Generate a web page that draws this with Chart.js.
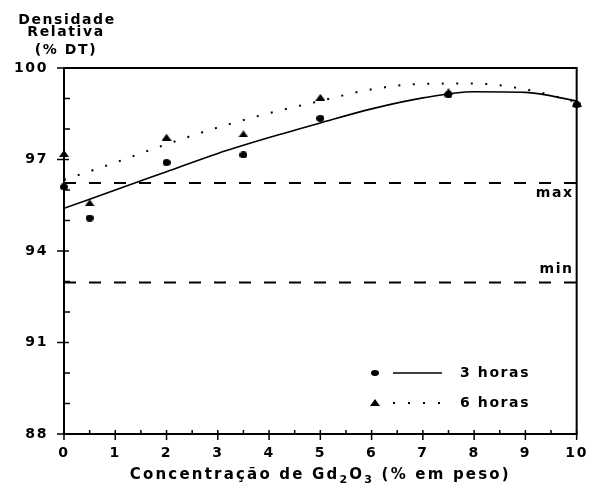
<!DOCTYPE html>
<html>
<head>
<meta charset="utf-8">
<script src="https://cdn.jsdelivr.net/npm/chart.js@4.4.1/dist/chart.umd.min.js"></script>
<style>
  html, body { margin: 0; padding: 0; background: #fff; }
  #wrap { width: 599px; height: 484px; }
</style>
</head>
<body>
<div id="wrap"><canvas id="c" width="599" height="484"></canvas></div>
<script>
// Measured relative density (% of theoretical density) vs Gd2O3 content
const concentrations = [0, 0.5, 2, 3.5, 5, 7.5, 10];
const density3h = [96.1, 95.08, 96.9, 97.15, 98.35, 99.12, 98.8];
const density6h = [97.2, 95.58, 97.73, 97.84, 99.04, 99.22, 98.85];

// Fitted trend curves
const fitX = [0, 1, 2, 3, 4, 5, 6, 7, 8, 9, 10];
const fit3h = [95.4, 96.0, 96.6, 97.2, 97.72, 98.2, 98.66, 99.02, 99.22, 99.2, 98.92];
const fit6h = [96.33, 96.9, 97.5, 98.05, 98.52, 98.92, 99.3, 99.48, 99.49, 99.3, 98.88];

// Specification limits
const limitMax = 96.23;
const limitMin = 92.97;

// Axes
const xTicks = [0, 1, 2, 3, 4, 5, 6, 7, 8, 9, 10];
const xMinorTicks = [0.5, 1.5, 2.5, 3.5, 4.5, 5.5, 6.5, 7.5, 8.5, 9.5];
const yTicks = [88, 91, 94, 97, 100];
const yMinorTicks = [89, 90, 92, 93, 95, 96, 98, 99];
const seriesLabels = ['3 horas', '6 horas'];
const yTitleLines = ['Densidade', 'Relativa', '(% DT)'];

const FONT = '"DejaVu Sans", "Liberation Sans", sans-serif';
const SPACING = '1.6px';

// flat filled triangle marker
function makeTriangle(w, h) {
  const cv = document.createElement('canvas');
  cv.width = w; cv.height = h;
  const g = cv.getContext('2d');
  g.fillStyle = '#000';
  g.beginPath();
  g.moveTo(w / 2, 0); g.lineTo(w, h); g.lineTo(0, h); g.closePath();
  g.fill();
  return cv;
}
// small rounded blob marker
function makeBlob(w, h) {
  const cv = document.createElement('canvas');
  cv.width = w; cv.height = h;
  const g = cv.getContext('2d');
  g.fillStyle = '#000';
  g.beginPath();
  g.ellipse(w / 2, h / 2, w / 2, h / 2, 0, 0, Math.PI * 2);
  g.fill();
  return cv;
}
const triMarker = makeTriangle(10, 7);
const blobMarker = makeBlob(8, 7);
const legendBlob = makeBlob(8, 6);

const pts = ys => concentrations.map((c, i) => ({ x: c, y: ys[i] }));
const curve = ys => fitX.map((c, i) => ({ x: c, y: ys[i] }));
const hline = v => [{ x: xTicks[0], y: v }, { x: xTicks[xTicks.length - 1], y: v }];

const typeSpacing = {
  id: 'typeSpacing',
  beforeLayout(chart) { chart.ctx.letterSpacing = SPACING; },
  beforeDraw(chart) { chart.ctx.letterSpacing = SPACING; }
};

const axisDecor = {
  id: 'axisDecor',
  afterDraw(chart) {
    const { ctx, chartArea: a, scales: { x, y } } = chart;
    ctx.save();
    ctx.strokeStyle = '#000';
    ctx.lineWidth = 2;
    ctx.beginPath();
    ctx.moveTo(a.left - 1, a.top);
    ctx.lineTo(a.right, a.top);
    ctx.lineTo(a.right, a.bottom + 1);
    ctx.stroke();

    ctx.lineWidth = 1.5;
    ctx.beginPath();
    yTicks.forEach(v => { const p = y.getPixelForValue(v); ctx.moveTo(a.left - 7, p); ctx.lineTo(a.left + 5, p); });
    yMinorTicks.forEach(v => { const p = y.getPixelForValue(v); ctx.moveTo(a.left, p); ctx.lineTo(a.left + 6, p); });
    xTicks.forEach(v => { const p = x.getPixelForValue(v); ctx.moveTo(p, a.bottom - 4); ctx.lineTo(p, a.bottom + 6); });
    xMinorTicks.forEach(v => { const p = x.getPixelForValue(v); ctx.moveTo(p, a.bottom); ctx.lineTo(p, a.bottom - 4); });
    ctx.stroke();
    ctx.restore();
  }
};

const labelsDecor = {
  id: 'labelsDecor',
  afterDraw(chart) {
    const { ctx, chartArea: a, scales: { x, y } } = chart;
    ctx.save();
    ctx.letterSpacing = SPACING;
    ctx.fillStyle = '#000';
    ctx.strokeStyle = '#000';

    // y-axis title (stacked at top-left)
    ctx.font = 'bold 14px ' + FONT;
    ctx.textAlign = 'center';
    ctx.textBaseline = 'alphabetic';
    ctx.fillText(yTitleLines[0], 67, 24);
    ctx.fillText(yTitleLines[1], 66, 36);
    ctx.fillText(yTitleLines[2], 66, 54);

    // limit labels
    ctx.textAlign = 'right';
    ctx.textBaseline = 'middle';
    ctx.fillText('max', a.right - 3, y.getPixelForValue(limitMax) + 10);
    ctx.fillText('min', a.right - 3, y.getPixelForValue(limitMin) - 13);

    // x-axis title with subscripts
    ctx.letterSpacing = '2.2px';
    const parts = [
      ['Concentração de Gd', 15, 0],
      ['2', 11, 4],
      ['O', 15, 0],
      ['3', 11, 4],
      [' (% em peso)', 15, 0]
    ];
    let total = 0;
    parts.forEach(p => { ctx.font = 'bold ' + p[1] + 'px ' + FONT; total += ctx.measureText(p[0]).width; });
    let cx = (a.left + a.right) / 2 - total / 2;
    const base = 479;
    ctx.textAlign = 'left';
    ctx.textBaseline = 'alphabetic';
    parts.forEach(p => {
      ctx.font = 'bold ' + p[1] + 'px ' + FONT;
      ctx.fillText(p[0], cx, base + p[2]);
      cx += ctx.measureText(p[0]).width;
    });
    ctx.letterSpacing = SPACING;

    // legend
    const rows = [373, 403];
    ctx.drawImage(legendBlob, 371, rows[0] - 3);
    ctx.drawImage(triMarker, 370, rows[1] - 4);
    ctx.lineWidth = 1.5;
    ctx.setLineDash([]);
    ctx.beginPath(); ctx.moveTo(393, rows[0]); ctx.lineTo(442, rows[0]); ctx.stroke();
    ctx.lineWidth = 2;
    ctx.setLineDash([2, 13]);
    ctx.beginPath(); ctx.moveTo(393, rows[1]); ctx.lineTo(444, rows[1]); ctx.stroke();
    ctx.setLineDash([]);
    ctx.font = 'bold 14px ' + FONT;
    ctx.textBaseline = 'middle';
    ctx.fillText(seriesLabels[0], 460, rows[0]);
    ctx.fillText(seriesLabels[1], 460, rows[1]);
    ctx.restore();
  }
};

new Chart(document.getElementById('c'), {
  type: 'scatter',
  data: {
    datasets: [
      { label: 'max', data: hline(limitMax), showLine: true, borderColor: '#000', borderWidth: 2,
        borderDash: [12, 13], pointRadius: 0, fill: false },
      { label: 'min', data: hline(limitMin), showLine: true, borderColor: '#000', borderWidth: 2,
        borderDash: [12, 13], pointRadius: 0, fill: false },
      { label: seriesLabels[0] + ' (ajuste)', data: curve(fit3h), showLine: true, borderColor: '#000',
        borderWidth: 1.6, cubicInterpolationMode: 'monotone', pointRadius: 0, fill: false },
      { label: seriesLabels[1] + ' (ajuste)', data: curve(fit6h), showLine: true, borderColor: '#000',
        borderWidth: 2, borderDash: [2, 12.5], cubicInterpolationMode: 'monotone', pointRadius: 0, fill: false },
      { label: seriesLabels[0], data: pts(density3h), showLine: false, pointStyle: blobMarker,
        pointRadius: 4, clip: false },
      { label: seriesLabels[1], data: pts(density6h), showLine: false, pointStyle: triMarker,
        pointRadius: 5, clip: false }
    ]
  },
  options: {
    responsive: false,
    animation: false,
    devicePixelRatio: 1,
    layout: { padding: { left: 0, top: 68, right: 17, bottom: 0 } },
    font: { family: FONT },
    plugins: { legend: { display: false }, tooltip: { enabled: false } },
    scales: {
      x: {
        type: 'linear', min: 0, max: 10,
        afterBuildTicks: s => { s.ticks = xTicks.map(v => ({ value: v })); },
        afterFit: s => { s.height = 50; },
        grid: { display: false, drawTicks: false },
        border: { display: true, color: '#000', width: 2 },
        ticks: { color: '#000', padding: 11, maxRotation: 0, autoSkip: false,
                 font: { family: FONT, size: 14, weight: 'bold' } }
      },
      y: {
        type: 'linear', min: 88, max: 100,
        afterBuildTicks: s => { s.ticks = yTicks.map(v => ({ value: v })); },
        afterFit: s => { s.width = 64; },
        grid: { display: false, drawTicks: false },
        border: { display: true, color: '#000', width: 2 },
        ticks: { color: '#000', padding: 16, autoSkip: false,
                 font: { family: FONT, size: 14, weight: 'bold' } }
      }
    }
  },
  plugins: [typeSpacing, axisDecor, labelsDecor]
});
</script>
</body>
</html>
